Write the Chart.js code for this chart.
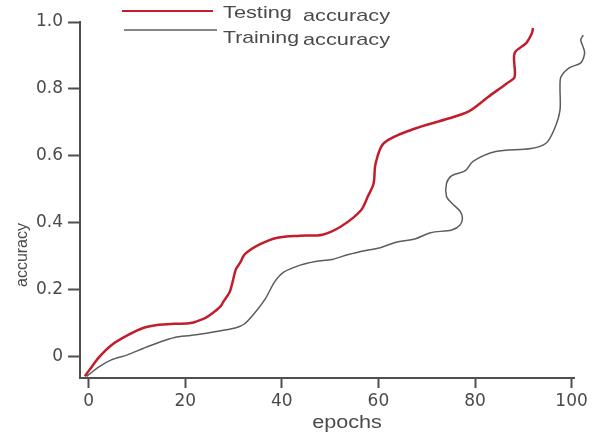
<!DOCTYPE html>
<html>
<head>
<meta charset="utf-8">
<script src="https://cdn.jsdelivr.net/npm/chart.js@4.4.1/dist/chart.umd.min.js"></script>
<style>
  html, body { margin: 0; padding: 0; background: #ffffff; }
  #wrap { width: 600px; height: 435px; position: relative; }
</style>
</head>
<body>
<div id="wrap"><canvas id="c" width="600" height="435"></canvas></div>
<script>
// ---- data ----
const epochTicks = [0, 20, 40, 60, 80, 100];
const epochTickLabels = ['0', '20', '40', '60', '80', '100'];
const accTicks = [0, 0.2, 0.4, 0.6, 0.8, 1.0];
const accTickLabels = ['0', '0.2', '0.4', '0.6', '0.8', '1.0'];

const seriesNames = ['Testing', 'Training'];
const legendSuffix = 'accuracy';
const xTitle = 'epochs';
const yTitle = 'accuracy';

const testingEpochs = [-0.8, 0.2, 2.2, 4.7, 8.0, 11.4, 14.5, 17.8, 21.1, 24.1, 25.4, 27.3, 27.9, 29.2, 29.8, 30.5, 31.4, 32.3, 35.3, 39.1, 43.8, 48.4, 52.4, 56.4, 57.8, 59.0, 59.4, 61.1, 67.0, 74.3, 78.7, 82.7, 86.7, 88.2, 88.2, 90.6, 91.8, 92.0];
const testingAccuracy = [-0.058, -0.038, 0, 0.035, 0.064, 0.087, 0.096, 0.099, 0.101, 0.116, 0.128, 0.151, 0.165, 0.194, 0.224, 0.262, 0.282, 0.306, 0.335, 0.356, 0.362, 0.365, 0.391, 0.438, 0.479, 0.518, 0.576, 0.638, 0.679, 0.711, 0.733, 0.776, 0.818, 0.836, 0.907, 0.937, 0.967, 0.982];

const trainingEpochs = [-0.4, 2.2, 4.7, 8.0, 11.4, 14.5, 17.8, 21.1, 24.1, 27.3, 30.5, 32.3, 34.2, 36.6, 38.5, 40.4, 43.8, 47.0, 50.4, 53.8, 57.4, 60.4, 63.3, 67.7, 70.8, 75.2, 76.9, 77.4, 76.9, 75.2, 74.1, 74.1, 75.2, 78.0, 79.6, 84.3, 91.6, 94.7, 96.4, 97.6, 97.6, 97.8, 99.5, 101.9, 102.7, 102.4, 101.9, 102.4];
const trainingAccuracy = [-0.058, -0.029, -0.009, 0.006, 0.026, 0.043, 0.058, 0.064, 0.070, 0.078, 0.087, 0.099, 0.128, 0.174, 0.224, 0.253, 0.274, 0.285, 0.291, 0.306, 0.318, 0.326, 0.341, 0.353, 0.371, 0.379, 0.394, 0.415, 0.435, 0.459, 0.479, 0.518, 0.541, 0.556, 0.584, 0.613, 0.622, 0.638, 0.679, 0.737, 0.806, 0.836, 0.863, 0.878, 0.907, 0.925, 0.946, 0.961];

// ---- styles ----
const AXIS = '#4f4f4f';
const TEXT = '#4a4a4a';
const RED = '#c21d2c';
const GRAY = '#5c5c5c';

function pts(xs, ys) { return xs.map((x, i) => ({ x: x, y: ys[i] })); }

function stretchText(ctx, txt, x, y, sx, align) {
  ctx.save();
  ctx.translate(x, y);
  ctx.scale(sx, 1);
  ctx.textAlign = align || 'left';
  ctx.fillText(txt, 0, 0);
  ctx.restore();
}

const overlay = {
  id: 'overlay',
  afterDraw(chart) {
    const ctx = chart.ctx;
    const ds = chart.data.datasets;
    ctx.save();
    // legend samples
    ctx.lineCap = 'butt';
    ctx.strokeStyle = ds[0].borderColor; ctx.lineWidth = 2;
    ctx.beginPath(); ctx.moveTo(122, 11); ctx.lineTo(213, 11); ctx.stroke();
    ctx.strokeStyle = ds[1].borderColor; ctx.lineWidth = 1.5;
    ctx.beginPath(); ctx.moveTo(124, 30); ctx.lineTo(217, 30); ctx.stroke();
    // legend text
    ctx.fillStyle = TEXT;
    ctx.textBaseline = 'alphabetic';
    ctx.font = '17px "Liberation Sans", Arial, sans-serif';
    stretchText(ctx, seriesNames[0], 223, 18, 1.28);
    stretchText(ctx, legendSuffix, 303, 21, 1.28);
    stretchText(ctx, seriesNames[1], 223, 43, 1.25);
    stretchText(ctx, legendSuffix, 303, 45, 1.28);
    // x axis title
    ctx.font = '18px "Liberation Sans", Arial, sans-serif';
    stretchText(ctx, xTitle, 347, 428, 1.2, 'center');
    // y axis title
    ctx.save();
    ctx.translate(27, 255);
    ctx.rotate(-Math.PI / 2);
    ctx.font = '16px "Liberation Sans", Arial, sans-serif';
    ctx.textAlign = 'center';
    ctx.fillText(yTitle, 0, 0);
    ctx.restore();
    ctx.restore();
  }
};

new Chart(document.getElementById('c'), {
  type: 'line',
  data: {
    datasets: [
      {
        label: seriesNames[0] + ' ' + legendSuffix,
        data: pts(testingEpochs, testingAccuracy),
        borderColor: RED,
        borderWidth: 2.5,
        pointRadius: 0,
        tension: 0.3,
        fill: false,
        clip: false
      },
      {
        label: seriesNames[1] + ' ' + legendSuffix,
        data: pts(trainingEpochs, trainingAccuracy),
        borderColor: GRAY,
        borderWidth: 1.5,
        pointRadius: 0,
        tension: 0.3,
        fill: false,
        clip: false
      }
    ]
  },
  options: {
    responsive: false,
    animation: false,
    events: [],
    layout: { padding: { top: 22, right: 26, bottom: 0, left: 0 } },
    plugins: { legend: { display: false }, tooltip: { enabled: false }, title: { display: false } },
    scales: {
      x: {
        type: 'linear',
        min: -1.8,
        max: 100.5,
        afterBuildTicks: (s) => { s.ticks = epochTicks.map(v => ({ value: v })); },
        afterFit: (s) => { s.height = 57; },
        ticks: {
          callback: (v) => epochTickLabels[epochTicks.indexOf(v)],
          color: TEXT,
          font: { family: '"DejaVu Sans", sans-serif', size: 17 },
          padding: 3,
          maxRotation: 0,
          autoSkip: false
        },
        grid: { drawOnChartArea: false, drawTicks: true, tickLength: 10, tickColor: AXIS, tickWidth: 2 },
        border: { display: true, color: AXIS, width: 2 }
      },
      y: {
        type: 'linear',
        min: -0.063,
        max: 1.0,
        afterBuildTicks: (s) => { s.ticks = accTicks.map(v => ({ value: v })); },
        afterFit: (s) => { s.width = 80; },
        ticks: {
          callback: (v) => accTickLabels[accTicks.indexOf(v)],
          color: TEXT,
          font: { family: '"DejaVu Sans", sans-serif', size: 17 },
          padding: 5,
          autoSkip: false
        },
        grid: { drawOnChartArea: false, drawTicks: true, tickLength: 12, tickColor: AXIS, tickWidth: 2 },
        border: { display: true, color: AXIS, width: 2 }
      }
    }
  },
  plugins: [overlay]
});
</script>
</body>
</html>
